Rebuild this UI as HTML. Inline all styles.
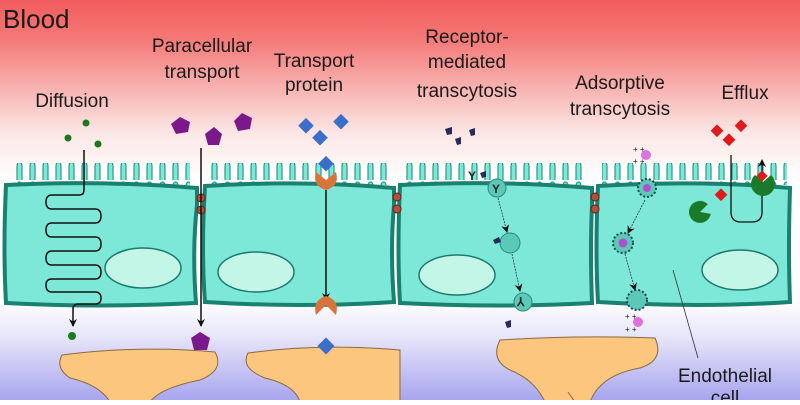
<!DOCTYPE html>
<html><head><meta charset="utf-8"><style>
html,body{margin:0;padding:0;}
body{width:800px;height:400px;overflow:hidden;}
svg text{font-family:"Liberation Sans",sans-serif;fill:#1a1a1a;}
</style></head><body>
<svg width="800" height="400" viewBox="0 0 800 400" xmlns="http://www.w3.org/2000/svg">
<defs>
<linearGradient id="bg" x1="0" y1="0" x2="0" y2="1">
<stop offset="0" stop-color="#f15c5c"/>
<stop offset="0.1" stop-color="#f47a78"/>
<stop offset="0.33" stop-color="#fbe6e4"/>
<stop offset="0.45" stop-color="#ffffff"/>
<stop offset="0.75" stop-color="#ffffff"/>
<stop offset="0.85" stop-color="#e4e2f8"/>
<stop offset="1" stop-color="#a8a6ee"/>
</linearGradient>
<marker id="ah" markerWidth="9" markerHeight="9" refX="7" refY="4" orient="auto" markerUnits="userSpaceOnUse">
<path d="M0,0 L8,4 L0,8 L2.5,4 Z" fill="#111"/>
</marker>
<pattern id="mv" width="13" height="20" patternUnits="userSpaceOnUse">
<path d="M4,20 L4,7 Q4,2 6.5,2 Q9,2 9,7 L9,20" fill="#7ee8d8" stroke="#2a9a88" stroke-width="1.2"/>
</pattern>
</defs>
<rect width="800" height="400" fill="url(#bg)"/>

<!-- astrocyte feet -->
<g fill="#fcc67f" stroke="#8a6a40" stroke-width="1">
<path d="M62,355 Q140,345 215,352 Q225,370 200,380 Q160,388 150,402 L110,402 Q100,385 70,378 Q55,368 62,355 Z"/>
<path d="M248,353 Q320,343 400,350 L400,402 L300,402 Q295,385 265,378 Q240,368 248,353 Z"/>
<path d="M500,340 Q580,335 655,338 Q665,360 640,368 Q600,375 590,402 L545,402 Q535,380 510,370 Q490,360 500,340 Z"/>
<path d="M568,392 L575,402" stroke="#8a6a40"/>
</g>

<!-- microvilli -->
<rect x="10" y="163" width="180" height="22" fill="url(#mv)"/>
<rect x="210" y="163" width="180" height="22" fill="url(#mv)"/>
<rect x="405" y="163" width="180" height="22" fill="url(#mv)"/>
<rect x="602" y="163" width="185" height="22" fill="url(#mv)"/>

<!-- cells -->
<g fill="#7ee8d8" stroke="#1a8070" stroke-width="4">
<path d="M6,185 Q100,180 197,188 L197,205 Q192,250 196,303 Q100,308 6,303 Q3,250 6,185 Z"/>
<path d="M205,186 Q300,180 394,188 L394,205 Q390,250 394,302 Q300,308 205,302 Q201,250 205,186 Z"/>
<path d="M400,185 Q500,180 592,188 L592,205 Q590,250 592,303 Q500,308 400,303 Q397,250 400,185 Z"/>
<path d="M598,186 Q700,180 790,188 Q788,250 790,302 Q700,308 598,302 Q595,250 598,186 Z"/>
</g>
<!-- nuclei -->
<g fill="#c4f6e8" stroke="#1a7a6a" stroke-width="1.5">
<ellipse cx="143" cy="268" rx="38" ry="20"/>
<ellipse cx="256" cy="272" rx="38" ry="20"/>
<ellipse cx="457" cy="275" rx="38" ry="20"/>
<ellipse cx="740" cy="270" rx="38" ry="20"/>
</g>
<!-- tight junctions -->
<g fill="#b05040" stroke="#702010" stroke-width="1">
<circle cx="201" cy="198" r="4"/><circle cx="201" cy="210" r="4"/>
<circle cx="397" cy="197" r="4"/><circle cx="397" cy="209" r="4"/>
<circle cx="595" cy="197" r="4"/><circle cx="595" cy="209" r="4"/>
</g>

<!-- diffusion -->
<path d="M84,150 L84,190 Q84,195 79,195 L52,195 Q46,195 46,202 Q46,209 52,209 L95,209 Q101,209 101,216 Q101,223 95,223 L52,223 Q46,223 46,230 Q46,237 52,237 L95,237 Q101,237 101,244 Q101,251 95,251 L52,251 Q46,251 46,258 Q46,265 52,265 L95,265 Q101,265 101,272 Q101,279 95,279 L52,279 Q46,279 46,285 Q46,292 52,292 L95,292 Q101,292 101,298 Q101,304 95,304 L78,304 Q73,304 73,309 L73,326" fill="none" stroke="#111" stroke-width="1.5" marker-end="url(#ah)"/>
<g fill="#1a7a1a"><circle cx="86" cy="123" r="3.5"/><circle cx="68" cy="138" r="3.5"/><circle cx="98" cy="144" r="3.5"/><circle cx="72" cy="336" r="4"/></g>

<!-- paracellular -->
<line x1="201" y1="148" x2="201" y2="326" stroke="#111" stroke-width="1.5" marker-end="url(#ah)"/>
<g fill="#7a1a8a">
<polygon points="180,117 190,122 188,132 176,134 171,124"/>
<polygon points="214,127 222,134 219,145 208,145 205,134"/>
<polygon points="242,113 252,118 250,129 238,131 234,121"/>
<polygon points="200,332 210,338 207,350 194,350 191,338"/>
</g>

<!-- transport protein -->
<line x1="326" y1="190" x2="326" y2="300" stroke="#111" stroke-width="1.5" marker-end="url(#ah)"/>
<g fill="#3a6ec8">
<rect x="301" y="120" width="11" height="11" transform="rotate(45 306 125)"/>
<rect x="336" y="116" width="11" height="11" transform="rotate(45 341 121)"/>
<rect x="315" y="132" width="11" height="11" transform="rotate(45 320 137)"/>
<rect x="321" y="158" width="11" height="11" transform="rotate(45 326 163)"/>
<rect x="320" y="340" width="12" height="12" transform="rotate(45 326 346)"/>
</g>
<g fill="#d8743a">
<path d="M316,172 L326,180 L336,172 Q340,186 326,190 Q312,186 316,172 Z"/>
<path d="M316,315 L326,305 L336,315 Q340,300 326,296 Q312,300 316,315 Z"/>
</g>

<!-- receptor mediated -->
<g fill="#2a2a5a">
<path d="M445,129 l7,-2 l0,7 l-5,1 z"/><path d="M469,130 l6,-2 l0,7 l-4,1z"/><path d="M455,139 l6,-2 l0,7 l-4,1z"/>
<path d="M505,322 l6,-2 l0,7 l-4,1z"/>
</g>
<text x="468" y="180" font-size="12" font-weight="bold" style="fill:#222">Y</text>
<path d="M480,173 l6,-2 l0,6 l-4,1z" fill="#2a2a5a"/>
<g stroke="#2a8a7a" stroke-width="1" fill="#5cc8b8">
<circle cx="497" cy="188" r="9"/><circle cx="510" cy="243" r="10"/><circle cx="523" cy="302" r="9"/>
</g>
<text x="492" y="193" font-size="12" font-weight="bold" style="fill:#222">Y</text>
<text x="517" y="306" font-size="12" font-weight="bold" style="fill:#222">⅄</text>
<path d="M493,240 l6,-3 l2,5 l-6,2z" fill="#2a2a5a"/>
<g stroke="#333" stroke-width="0.8" stroke-dasharray="2,1" fill="none">
<line x1="498" y1="198" x2="507" y2="232" marker-end="url(#ah)"/>
<line x1="512" y1="254" x2="520" y2="291" marker-end="url(#ah)"/>
<line x1="645" y1="200" x2="628" y2="233" marker-end="url(#ah)"/>
<line x1="625" y1="254" x2="635" y2="290" marker-end="url(#ah)"/>
</g>

<!-- adsorptive -->
<g fill="#e070e0">
<circle cx="646" cy="155" r="5"/><circle cx="638" cy="322" r="5"/>
</g>
<g stroke="#1a4a4a" stroke-width="2" stroke-dasharray="2,2" fill="#5cc8b8">
<circle cx="647" cy="188" r="9"/><circle cx="623" cy="243" r="10"/><circle cx="637" cy="300" r="10"/>
</g>
<circle cx="647" cy="188" r="4" fill="#b050d0"/><circle cx="623" cy="243" r="4.5" fill="#b050d0"/>
<g font-size="8" style="fill:#222"><text x="633" y="152">+ +</text><text x="633" y="164">+ +</text><text x="625" y="319">+ +</text><text x="625" y="332">+ +</text></g>

<!-- efflux -->
<path d="M731,155 L731,212 Q731,222 741,222 L752,222 Q762,222 762,212 L762,160" fill="none" stroke="#111" stroke-width="1.3" marker-end="url(#ah)"/>
<g fill="#e01a1a">
<rect x="713" y="126" width="9" height="9" transform="rotate(45 717 130)"/>
<rect x="737" y="121" width="9" height="9" transform="rotate(45 741 125)"/>
<rect x="725" y="135" width="9" height="9" transform="rotate(45 729 139)"/>
<rect x="717" y="190" width="9" height="9" transform="rotate(45 721 194)"/>
</g>
<path d="M700,212 L707.8,204.2 A11,11 0 1,0 710.8,213.9 Z" fill="#1a7a2a"/>
<path d="M763,182 L755,175 A12,12 0 1,0 771,175 Z" fill="#1a7a2a"/>
<rect x="758" y="172" width="8" height="8" fill="#e01a1a" transform="rotate(45 762 176)"/>

<!-- pointer -->
<line x1="673" y1="270" x2="698" y2="358" stroke="#333" stroke-width="0.8"/>

<!-- labels -->
<text x="3" y="28" font-size="26">Blood</text>
<g font-size="19" text-anchor="middle">
<text x="72" y="107">Diffusion</text>
<text x="202" y="52">Paracellular</text>
<text x="202" y="78">transport</text>
<text x="314" y="67">Transport</text>
<text x="314" y="91">protein</text>
<text x="467" y="43">Receptor-</text>
<text x="467" y="68">mediated</text>
<text x="467" y="97">transcytosis</text>
<text x="620" y="89">Adsorptive</text>
<text x="620" y="115">transcytosis</text>
<text x="745" y="99">Efflux</text>
<text x="725" y="382">Endothelial</text>
<text x="725" y="404">cell</text>
</g>
</svg>
</body></html>
